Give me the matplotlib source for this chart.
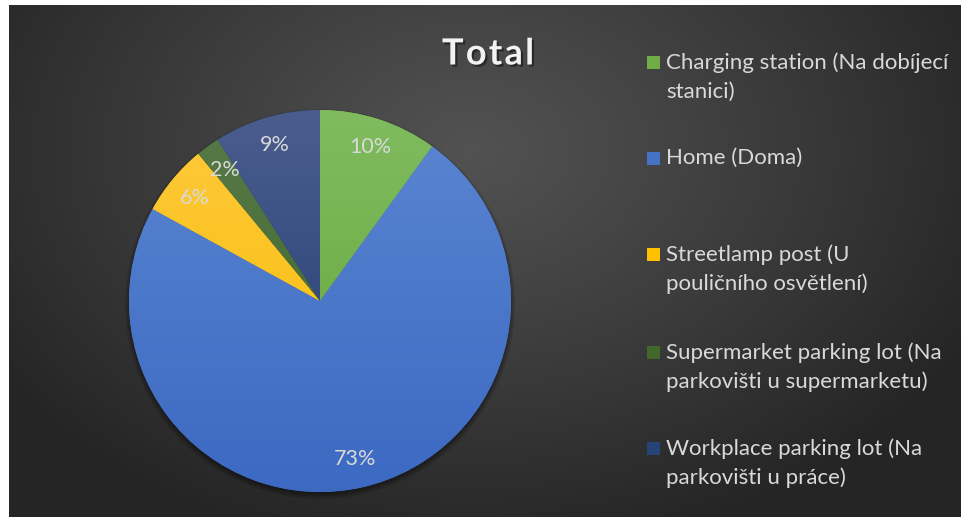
import matplotlib.pyplot as plt
import matplotlib.patheffects as pe
import numpy as np
from matplotlib.colors import to_rgb
from matplotlib.patches import Circle, Rectangle

plt.rcParams['font.family'] = ['Lato', 'DejaVu Sans']

TITLE = 'Total'
CATEGORIES = [
    'Charging station (Na dobíjecí\nstanici)',
    'Home (Doma)',
    'Streetlamp post (U\npouličního osvětlení)',
    'Supermarket parking lot (Na\nparkovišti u supermarketu)',
    'Workplace parking lot (Na\nparkovišti u práce)',
]
SHARES = [10, 73, 6, 2, 9]

# light top -> darker bottom for each slice
TOP_COLORS = ['#80bc5f', '#5b86d2', '#ffc93d', '#587a4a', '#4b5d8d']
BOTTOM_COLORS = ['#63a336', '#3c69c2', '#f4bd00', '#3c6224', '#1d3971']
SWATCH_COLORS = ['#70ad47', '#4472c4', '#ffc000', '#43682b', '#264478']

W, H = 962, 517
CX, CY, R = 320, 216, 191


def drawBackground(ax):
    # radial grey gradient behind the chart
    yy, xx = np.mgrid[5:H, 9:W]
    d = np.sqrt(((xx - 470) / 560.0) ** 2 + ((yy - 150) / 400.0) ** 2)
    d = np.clip(d, 0, 1)
    g = 0.32 - (0.32 - 0.148) * d ** 1.1
    img = np.dstack([g, g, g])
    ax.imshow(img, extent=(9, W, 0, H - 5), origin='upper', zorder=0,
              interpolation='bilinear')


def drawPie(ax):
    # soft shadow under the pie
    for i, a in enumerate([0.10, 0.10, 0.10, 0.12]):
        ax.add_patch(Circle((CX, CY - 3), R + 4 - i * 1.5, color='black',
                            alpha=a, lw=0, zorder=1))

    wedges, texts, autotexts = ax.pie(
        SHARES, startangle=90, counterclock=False, center=(CX, CY), radius=R,
        colors=SWATCH_COLORS, autopct='%1.0f%%', pctdistance=0.85,
        wedgeprops=dict(linewidth=0), frame=True,
        textprops=dict(color='#d9d9d9', fontsize=15.5))

    for w, top, bottom in zip(wedges, TOP_COLORS, BOTTOM_COLORS):
        t = np.array(to_rgb(top))
        b = np.array(to_rgb(bottom))
        f = np.linspace(0, 1, 256)[:, None, None]
        grad = t + (b - t) * f
        im = ax.imshow(grad, extent=(CX - R, CX + R, CY - R, CY + R),
                       origin='upper', zorder=2, interpolation='bilinear',
                       aspect='auto')
        im.set_clip_path(w)
    for t in autotexts:
        t.set_zorder(5)


def drawLegend(ax):
    yMarks = [455, 359, 263, 165, 69]
    for label, color, y in zip(CATEGORIES, SWATCH_COLORS, yMarks):
        ax.add_patch(Rectangle((647, y - 6.5), 13, 13, color=color, lw=0, zorder=3))
        ax.text(666, y + 10, label, color='#d9d9d9', fontsize=16, va='top',
                ha='left', linespacing=1.56, zorder=3)


def main():
    fig = plt.figure(figsize=(W / 100, H / 100), dpi=100)
    fig.patch.set_facecolor('white')
    ax = fig.add_axes([0, 0, 1, 1])

    drawBackground(ax)
    drawPie(ax)
    drawLegend(ax)

    # spaced-out title letters
    ax.text(488, 463, '\u200a'.join(TITLE), color='#f2f2f2', fontsize=26,
            fontweight='bold', ha='center', va='center', zorder=4,
            path_effects=[pe.withSimplePatchShadow(offset=(1.5, -1.5),
                                                   shadow_rgbFace='black',
                                                   alpha=0.45)])

    ax.set_xlim(0, W)
    ax.set_ylim(0, H)
    ax.set_aspect('auto')
    ax.set_axis_off()
    fig.savefig('out.png', dpi=100, facecolor='white')


if __name__ == '__main__':
    main()
